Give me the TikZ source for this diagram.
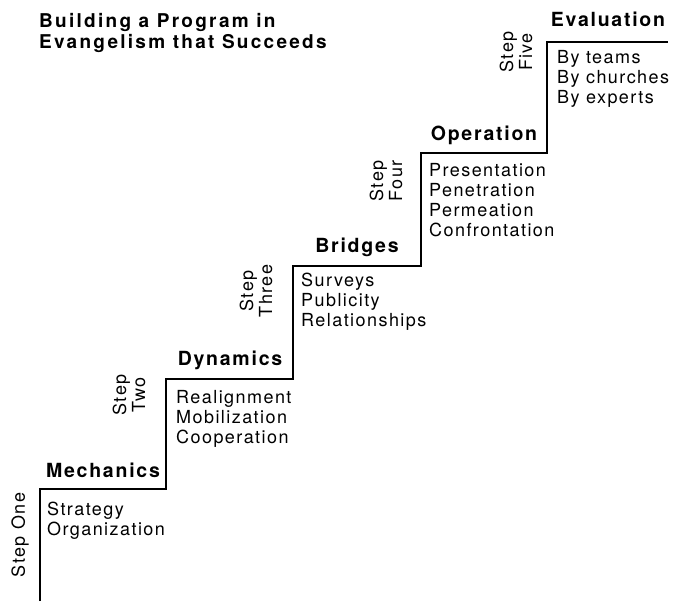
\documentclass[tikz,border=0pt]{standalone}
\usepackage{fontspec}
\setmainfont{TeX Gyre Heros}
\newfontfamily\bodyfont{TeX Gyre Heros}[LetterSpace=8]
\newfontfamily\headfont{TeX Gyre Heros}[LetterSpace=9]
\newfontfamily\titlefont{TeX Gyre Heros}[LetterSpace=12]
\begin{document}
\begin{tikzpicture}[x=1pt,y=-1pt,
  stair/.style={line width=2.4pt, line join=miter, line cap=butt},
  heading/.style={inner sep=0pt, anchor=base, font=\headfont\bfseries\fontsize{19.5}{22}\selectfont},
  items/.style={inner sep=0pt, anchor=north west, align=left, font=\bodyfont\fontsize{18}{20}\selectfont},
  steplabel/.style={inner sep=0pt, rotate=90, align=center, font=\bodyfont\fontsize{18}{19}\selectfont},
  titletext/.style={inner sep=0pt, anchor=north west, align=left, font=\titlefont\bfseries\fontsize{19}{21}\selectfont}]
\useasboundingbox (0,0) rectangle (681,603);
% staircase corners
\coordinate (s0) at (40,601);
\coordinate (a1) at (40,489);  \coordinate (b1) at (166,489);
\coordinate (a2) at (166,379); \coordinate (b2) at (293,379);
\coordinate (a3) at (293,266); \coordinate (b3) at (421,266);
\coordinate (a4) at (421,153); \coordinate (b4) at (547,153);
\coordinate (a5) at (547,42);  \coordinate (b5) at (668,42);
\draw[stair] (s0) -- (a1) -- (b1) -- (a2) -- (b2) -- (a3) -- (b3) -- (a4) -- (b4) -- (a5) -- (b5);
% title
\node[titletext] (title) at (39,13) {Building a Program in\\Evangelism that Succeeds};
% headings
\node[heading] (h1) at (103,477) {Mechanics};
\node[heading] (h2) at (230,365) {Dynamics};
\node[heading] (h3) at (357,252) {Bridges};
\node[heading] (h4) at (484,140) {Operation};
\node[heading] (h5) at (608,26) {Evaluation};
% items
\node[items] (i1) at (47,502) {Strategy\\Organization};
\node[items] (i2) at (176,390) {Realignment\\Mobilization\\Cooperation};
\node[items] (i3) at (301,273) {Surveys\\Publicity\\Relationships};
\node[items] (i4) at (429,163) {Presentation\\Penetration\\Permeation\\Confrontation};
\node[items] (i5) at (557,50) {By teams\\By churches\\By experts};
% step labels
\node[steplabel] (l1) at (20,535) {Step One};
\node[steplabel] (l2) at (129,395) {Step\\Two};
\node[steplabel] (l3) at (256,291) {Step\\Three};
\node[steplabel] (l4) at (386,181) {Step\\Four};
\node[steplabel] (l5) at (516,52) {Step\\Five};
\end{tikzpicture}
\end{document}
